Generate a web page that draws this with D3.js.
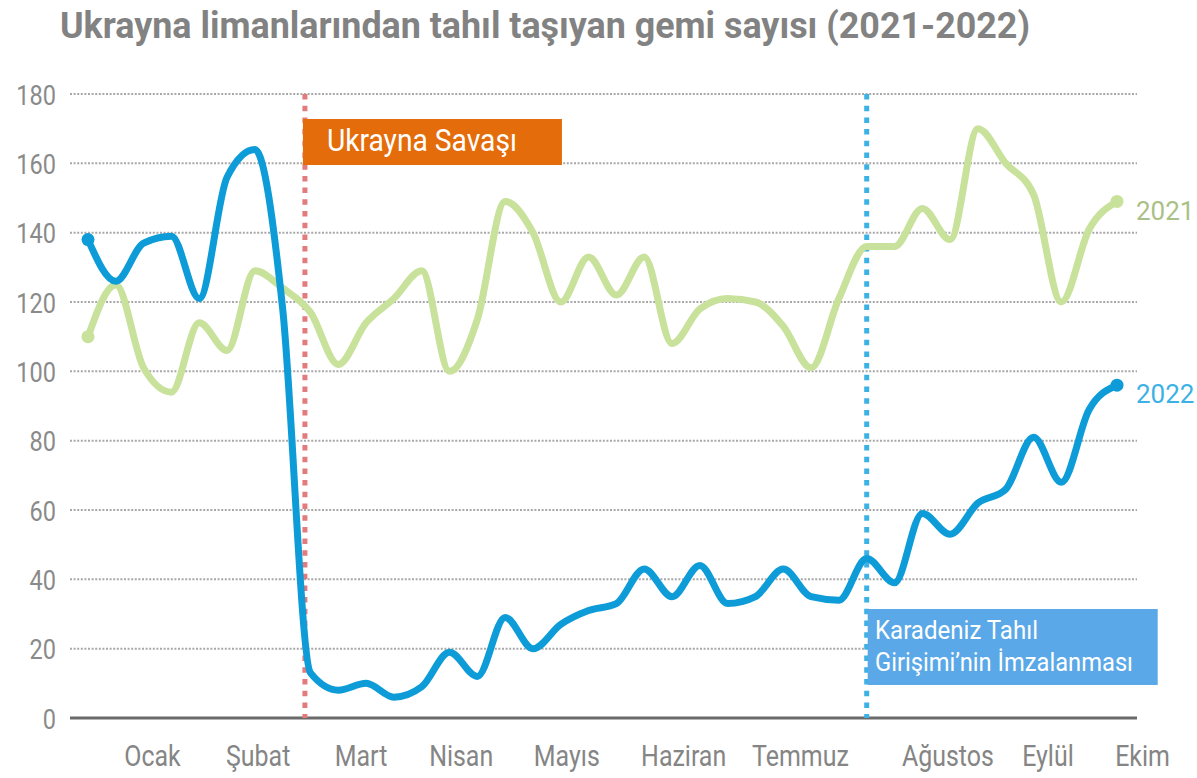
<!DOCTYPE html>
<html>
<head>
<meta charset="utf-8">
<script src="https://cdn.jsdelivr.net/npm/d3@7"></script>
<style>
  html, body { margin: 0; padding: 0; background: #fff; }
  svg { display: block; }
  text { font-family: "Liberation Sans Narrow", "Roboto", "Liberation Sans", sans-serif; }
</style>
</head>
<body>
<svg id="chart" width="1197" height="778"></svg>
<script>
// ---- data ----
const title = "Ukrayna limanlarından tahıl taşıyan gemi sayısı (2021-2022)";
// weekly counts, 38 weeks
const values2021 = [110,125,101,94,114,106,129,124,117,102,114,121,129,100,115,149,140,120,133,122,133,108,118,121,120,113,101,121,136,136,147,138,170,160,151,120,141,149];
const values2022 = [138,126,137,139,121,156,164,118,13,8,10,6,9,19,12,29,20,27,31,33,43,35,44,33,35,43,35,34,46,39,59,53,62,66,81,68,89,96];
const monthLabels = ["Ocak","Şubat","Mart","Nisan","Mayıs","Haziran","Temmuz","Ağustos","Eylül","Ekim"];
const monthPos = [2.3,6.1,9.8,13.4,17.2,21.4,25.6,30.9,34.5,37.9]; // week index under which each label sits
const yTicks = [0,20,40,60,80,100,120,140,160,180];
const events = [
  { pos: 7.8, lines: ["Ukrayna Savaşı"] },
  { pos: 28,  lines: ["Karadeniz Tahıl", "Girişimi’nin İmzalanması"] }
];
const seriesNames = ["2021","2022"];

// ---- layout ----
const svg = d3.select("#chart");
const x = d3.scaleLinear().domain([0, 37]).range([88, 1117]);
const y = d3.scaleLinear().domain([0, 180]).range([718, 94]);
const gridX0 = 70, gridX1 = 1137;

function squeeze(sel, f) {
  sel.each(function () {
    const w = this.getComputedTextLength();
    d3.select(this).attr("textLength", w * f).attr("lengthAdjust", "spacingAndGlyphs");
  });
}

// title
svg.append("text")
  .attr("x", 60).attr("y", 38)
  .attr("font-size", 37).attr("font-weight", "bold")
  .attr("fill", "#828282")
  .attr("textLength", 970).attr("lengthAdjust", "spacingAndGlyphs")
  .text(title);

// gridlines
const grid = svg.append("g");
grid.selectAll("line").data(yTicks.filter(d => d > 0)).join("line")
  .attr("x1", gridX0).attr("x2", gridX1)
  .attr("y1", d => y(d)).attr("y2", d => y(d))
  .attr("stroke", "#a8a8a8").attr("stroke-width", 2)
  .attr("stroke-dasharray", "2,1.6");

// baseline
svg.append("line")
  .attr("x1", gridX0).attr("x2", gridX1)
  .attr("y1", y(0)).attr("y2", y(0))
  .attr("stroke", "#6a6a6a").attr("stroke-width", 3);

// y axis labels
const yAxis = d3.axisLeft(y).tickValues(yTicks).tickSize(0).tickPadding(0);
const yg = svg.append("g").attr("transform", "translate(56,0)").call(yAxis);
yg.select(".domain").remove();
yg.selectAll("text")
  .attr("font-size", 28).attr("fill", "#8a8a8a")
  .attr("font-family", "'Liberation Sans Narrow', Roboto, sans-serif")
  .attr("dy", "0.36em");
squeeze(yg.selectAll("text"), 0.84);

// x axis labels
const xAxis = d3.axisBottom(x).tickValues(monthPos).tickSize(0).tickPadding(0)
  .tickFormat((d, i) => monthLabels[i]);
const xg = svg.append("g").attr("transform", "translate(0,745)").call(xAxis);
xg.select(".domain").remove();
xg.selectAll("text")
  .attr("font-size", 29).attr("fill", "#858585")
  .attr("font-family", "'Liberation Sans Narrow', Roboto, sans-serif")
  .attr("dy", "0.71em");
squeeze(xg.selectAll("text"), 0.86);

// event markers
const evColors = ["#e27b7b", "#3cb1e6"];
events.forEach((e, i) => {
  svg.append("line")
    .attr("x1", x(e.pos)).attr("x2", x(e.pos))
    .attr("y1", y(180)).attr("y2", y(0))
    .attr("stroke", evColors[i]).attr("stroke-width", 5)
    .attr("stroke-dasharray", "5.5,6.2");
});

// lines
const line = d3.line().x((d, i) => x(i)).y(d => y(d)).curve(d3.curveMonotoneX);
svg.append("path").datum(values2021)
  .attr("d", line).attr("fill", "none")
  .attr("stroke", "#c8e19b").attr("stroke-width", 7)
  .attr("stroke-linejoin", "round").attr("stroke-linecap", "round");
svg.append("path").datum(values2022)
  .attr("d", line).attr("fill", "none")
  .attr("stroke", "#0d9cd8").attr("stroke-width", 7)
  .attr("stroke-linejoin", "round").attr("stroke-linecap", "round");

// end dots
[[values2021, "#c8e19b"], [values2022, "#0d9cd8"]].forEach(([vals, c]) => {
  [0, vals.length - 1].forEach(i => {
    svg.append("circle").attr("cx", x(i)).attr("cy", y(vals[i])).attr("r", 6.5).attr("fill", c);
  });
});

// series labels
svg.append("text").attr("x", 1136).attr("y", y(values2021[37]) + 19)
  .attr("font-size", 26).attr("fill", "#a9c186")
  .text(seriesNames[0]);
svg.append("text").attr("x", 1136).attr("y", y(values2022[37]) + 18)
  .attr("font-size", 26).attr("fill", "#3cb1e6")
  .text(seriesNames[1]);

// event boxes
// Ukrayna Savaşı
const b1 = svg.append("g");
b1.append("rect").attr("x", x(events[0].pos) - 2).attr("y", 119)
  .attr("width", 259).attr("height", 46).attr("fill", "#e46c0a");
b1.append("text").attr("x", x(events[0].pos) + 22).attr("y", 151)
  .attr("font-size", 32).attr("fill", "#fff")
  .attr("textLength", 190).attr("lengthAdjust", "spacingAndGlyphs")
  .text(events[0].lines[0]);

// Karadeniz
const b2 = svg.append("g");
b2.append("rect").attr("x", x(events[1].pos) + 1).attr("y", 609)
  .attr("width", 290).attr("height", 76).attr("fill", "#5aa8e8");
b2.append("text").attr("x", 875).attr("y", 639)
  .attr("font-size", 26).attr("fill", "#fff")
  .attr("textLength", 163).attr("lengthAdjust", "spacingAndGlyphs")
  .text(events[1].lines[0]);
b2.append("text").attr("x", 875).attr("y", 671)
  .attr("font-size", 26).attr("fill", "#fff")
  .attr("textLength", 258).attr("lengthAdjust", "spacingAndGlyphs")
  .text(events[1].lines[1]);
</script>
</body>
</html>
